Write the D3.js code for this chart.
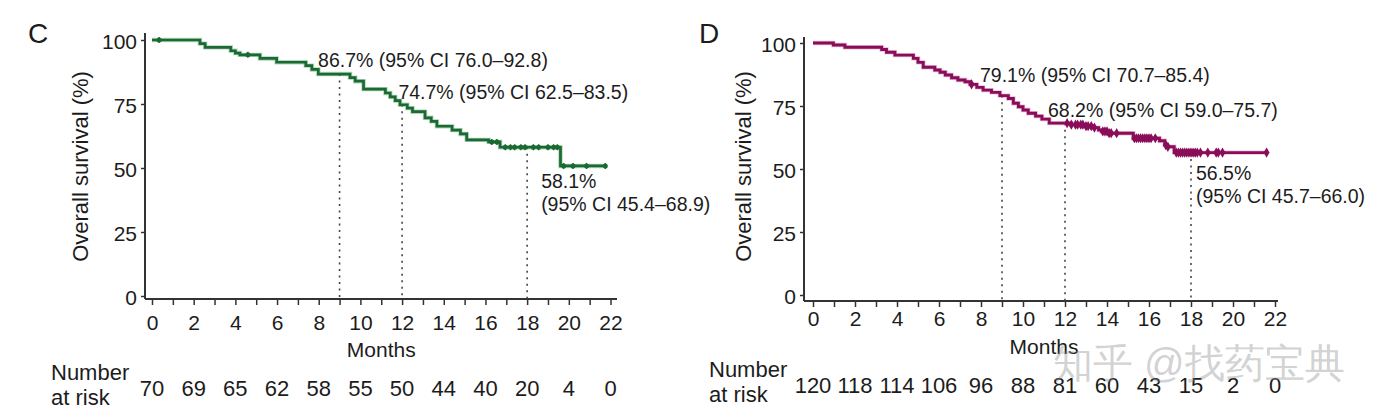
<!DOCTYPE html>
<html><head><meta charset="utf-8">
<script src="https://cdn.jsdelivr.net/npm/d3@7"></script>
<style>
body{margin:0;background:#fff;}
svg{display:block;}
text{font-family:"Liberation Sans",Arial,sans-serif;fill:#1c1c1c;}
</style>
</head><body>
<svg id="chart" width="1384" height="420"></svg>
<script>
// ---------- data ----------
const monthTicks = [0,1,2,3,4,5,6,7,8,9,10,11,12,13,14,15,16,17,18,19,20,21,22];
const yTicks = [0,25,50,75,100];
const riskMonths = [0,2,4,6,8,10,12,14,16,18,20,22];

const cTime = [0,2.3,2.55,3.78,4.0,4.22,5.18,5.98,7.38,7.67,7.98,9.5,9.75,10.15,11.2,11.43,11.67,11.9,12.25,12.5,13.1,13.4,13.67,14.4,14.8,15.1,16.15,16.7,19.6,21.8];
const cSurv = [100,98.6,97.1,95.8,94.9,94.2,92.8,91.3,90.0,88.5,86.7,85.3,83.9,80.8,79.3,77.8,76.3,74.7,73.4,72.0,69.6,68.2,66.3,64.8,63.3,61.0,60.2,58.1,50.8,50.8];
const cCensor = [0.34,4.6,16.3,16.55,16.95,17.2,17.4,17.7,17.9,18.3,18.55,19.0,19.27,19.45,19.75,20.2,20.85,21.75];
const cRisk = [70,69,65,62,58,55,50,44,40,20,4,0];

const dTime = [0,0.97,1.52,3.27,3.5,3.9,4.78,5.0,5.25,5.8,6.05,6.3,6.6,6.9,7.24,7.48,7.8,8.1,8.5,8.9,9.3,9.54,9.78,10.0,10.25,10.6,10.9,11.25,12.3,12.9,13.3,13.6,13.75,14.1,15.25,16.5,16.75,16.85,17.2,21.6];
const dSurv = [100,99.2,98.3,97.4,96.3,95.2,93.9,92.3,90.4,89.3,88.4,87.3,86.2,85.3,84.6,83.6,82.4,81.3,80.4,79.1,78.0,76.1,74.7,73.4,72.1,71.0,69.8,68.2,67.6,67.0,66.4,65.5,64.9,64.2,62.2,61.2,59.5,58.8,56.5,56.5];
const dCensor = [7.55,12.1,12.3,12.5,12.6,12.75,12.85,13.0,13.1,13.25,13.4,13.8,13.9,14.0,14.1,14.2,14.46,15.3,15.4,15.5,15.6,15.7,15.8,15.9,16.0,16.1,16.3,16.8,16.9,17.3,17.4,17.5,17.6,17.7,17.8,17.9,18.0,18.1,18.2,18.3,18.45,18.8,19.2,19.3,19.5,21.6];
const dRisk = [120,118,114,106,96,88,81,60,43,15,2,0];

const landmarks = [9,12,18];
const cLandmarkSurv = [86.7,74.7,58.1];
const dLandmarkSurv = [79.1,68.2,56.5];
const cNotes = [["86.7% (95% CI 76.0–92.8)"],["74.7% (95% CI 62.5–83.5)"],["58.1%","(95% CI 45.4–68.9)"]];
const dNotes = [["79.1% (95% CI 70.7–85.4)"],["68.2% (95% CI 59.0–75.7)"],["56.5%","(95% CI 45.7–66.0)"]];

// ---------- layout ----------
const svg = d3.select("#chart");
svg.append("rect").attr("width",1384).attr("height",420).attr("fill","#fff");

function panel(cfg){
  const g = svg.append("g");
  const x = d3.scaleLinear().domain([0,22]).range(cfg.xRange);
  const y = d3.scaleLinear().domain([0,100]).range(cfg.yRange);

  g.append("text").attr("x",cfg.letterX).attr("y",43).attr("font-size",28).text(cfg.letter);

  // y axis
  const ya = g.append("g").attr("transform",`translate(${cfg.axisX},0)`)
    .call(d3.axisLeft(y).tickValues(yTicks).tickSize(4).tickPadding(4));
  ya.select(".domain").remove();
  ya.selectAll("line").attr("stroke","#333").attr("stroke-width",1.5);
  ya.selectAll("text").attr("font-size",21).attr("dy","0.41em").attr("fill","#1c1c1c")
    .attr("font-family",'"Liberation Sans",Arial,sans-serif');
  g.append("line").attr("x1",cfg.axisX).attr("x2",cfg.axisX).attr("y1",cfg.yTop).attr("y2",cfg.axisY)
    .attr("stroke","#333").attr("stroke-width",2);

  // x axis
  const xa = g.append("g").attr("transform",`translate(0,${cfg.axisY})`)
    .call(d3.axisBottom(x).tickValues(monthTicks).tickSize(6).tickPadding(cfg.xPad)
      .tickFormat(d => d % 2 === 0 ? d : ""));
  xa.select(".domain").remove();
  xa.selectAll("line").attr("stroke","#333").attr("stroke-width",1.5);
  xa.selectAll("text").attr("font-size",21).attr("fill","#1c1c1c")
    .attr("font-family",'"Liberation Sans",Arial,sans-serif');
  g.append("line").attr("x1",cfg.axisX).attr("x2",cfg.xRight).attr("y1",cfg.axisY).attr("y2",cfg.axisY)
    .attr("stroke","#333").attr("stroke-width",2);

  // axis titles
  g.append("text").attr("transform",`translate(${cfg.yLabelX},166.5) rotate(-90)`)
    .attr("text-anchor","middle").attr("font-size",22).text("Overall survival (%)");
  g.append("text").attr("x",(cfg.xRange[0]+cfg.xRange[1])/2).attr("y",cfg.monthsY)
    .attr("text-anchor","middle").attr("font-size",21).text("Months");

  // landmark dotted lines
  landmarks.forEach((m,i)=>{
    g.append("line").attr("x1",x(m)).attr("x2",x(m)).attr("y1",y(cfg.lmSurv[i])).attr("y2",cfg.axisY)
      .attr("stroke","#444").attr("stroke-width",1.6).attr("stroke-dasharray","2,4.5");
  });

  // KM curve
  const pts = d3.zip(cfg.time, cfg.surv);
  const line = d3.line().x(d=>x(d[0])).y(d=>y(d[1])).curve(d3.curveStepAfter);
  g.append("path").attr("d",line(pts)).attr("fill","none").attr("stroke",cfg.halo)
    .attr("stroke-width",4.4).attr("stroke-opacity",0.45);
  g.append("path").attr("d",line(pts)).attr("fill","none").attr("stroke",cfg.color)
    .attr("stroke-width",cfg.lw);

  const survAt = t => { let v = cfg.surv[0]; cfg.time.forEach((tt,i)=>{ if (tt <= t) v = cfg.surv[i]; }); return v; };
  if (cfg.marker === "circle") {
    g.selectAll(".cen").data(cfg.censor).join("circle")
      .attr("cx",d=>x(d)).attr("cy",d=>y(survAt(d))).attr("r",2.5).attr("fill",cfg.color);
    g.selectAll(".cent").data(cfg.censor).join("line")
      .attr("x1",d=>x(d)).attr("x2",d=>x(d)).attr("y1",d=>y(survAt(d))-3).attr("y2",d=>y(survAt(d))+3)
      .attr("stroke",cfg.color).attr("stroke-width",1.4);
  } else {
    const sym = d3.symbol(d3.symbolDiamond, 30);
    g.selectAll(".cen").data(cfg.censor).join("path")
      .attr("d",sym).attr("transform",d=>`translate(${x(d)},${y(survAt(d))})`).attr("fill",cfg.color);
  }

  // annotations
  landmarks.forEach((m,i)=>{
    const [dx,dy] = cfg.noteOff[i];
    cfg.notes[i].forEach((s,j)=>{
      g.append("text").attr("x",x(m)+dx).attr("y",y(cfg.lmSurv[i])+dy+j*23)
        .attr("font-size",19.5).text(s);
    });
  });

  // number at risk
  g.append("text").attr("x",cfg.riskLabelX).attr("y",cfg.riskY1).attr("font-size",22).text("Number");
  g.append("text").attr("x",cfg.riskLabelX).attr("y",cfg.riskY1+25).attr("font-size",22).text("at risk");
  g.selectAll(".risk").data(d3.zip(riskMonths,cfg.risk)).join("text")
    .attr("x",d=>x(d[0])).attr("y",cfg.riskNumY).attr("text-anchor","middle")
    .attr("font-size",22).text(d=>d[1]);
}

panel({letter:"C",letterX:28,xRange:[152,610.5],yRange:[296,40],axisX:145,axisY:299,yTop:33,xRight:617,xPad:10,
  yLabelX:88,monthsY:357,time:cTime,surv:cSurv,censor:cCensor,marker:"circle",lw:2.7,
  color:"#1b6a33",halo:"#4fa464",lmSurv:cLandmarkSurv,notes:cNotes,
  noteOff:[[-21.5,-7],[-3.7,-5.8],[14,40.7]],risk:cRisk,riskLabelX:51,riskY1:380,riskNumY:396});

panel({letter:"D",letterX:699,xRange:[813,1275],yRange:[295,43],axisX:804,axisY:301,yTop:37,xRight:1278,xPad:4.5,
  yLabelX:751,monthsY:354,time:dTime,surv:dSurv,censor:dCensor,marker:"diamond",lw:2.9,
  color:"#8a0d5a",halo:"#d66aae",lmSurv:dLandmarkSurv,notes:dNotes,
  noteOff:[[-22,-13.7],[-17,-6],[5,27.4]],risk:dRisk,riskLabelX:709,riskY1:377,riskNumY:393});

// watermark (present in the reference image)
svg.append("text").attr("x",1053).attr("y",377)
  .attr("font-family",'"Noto Sans CJK SC",sans-serif').attr("font-size",40)
  .style("fill","#8c8c8c").attr("fill-opacity",0.4).text("知乎 @找药宝典");
</script>
</body></html>
